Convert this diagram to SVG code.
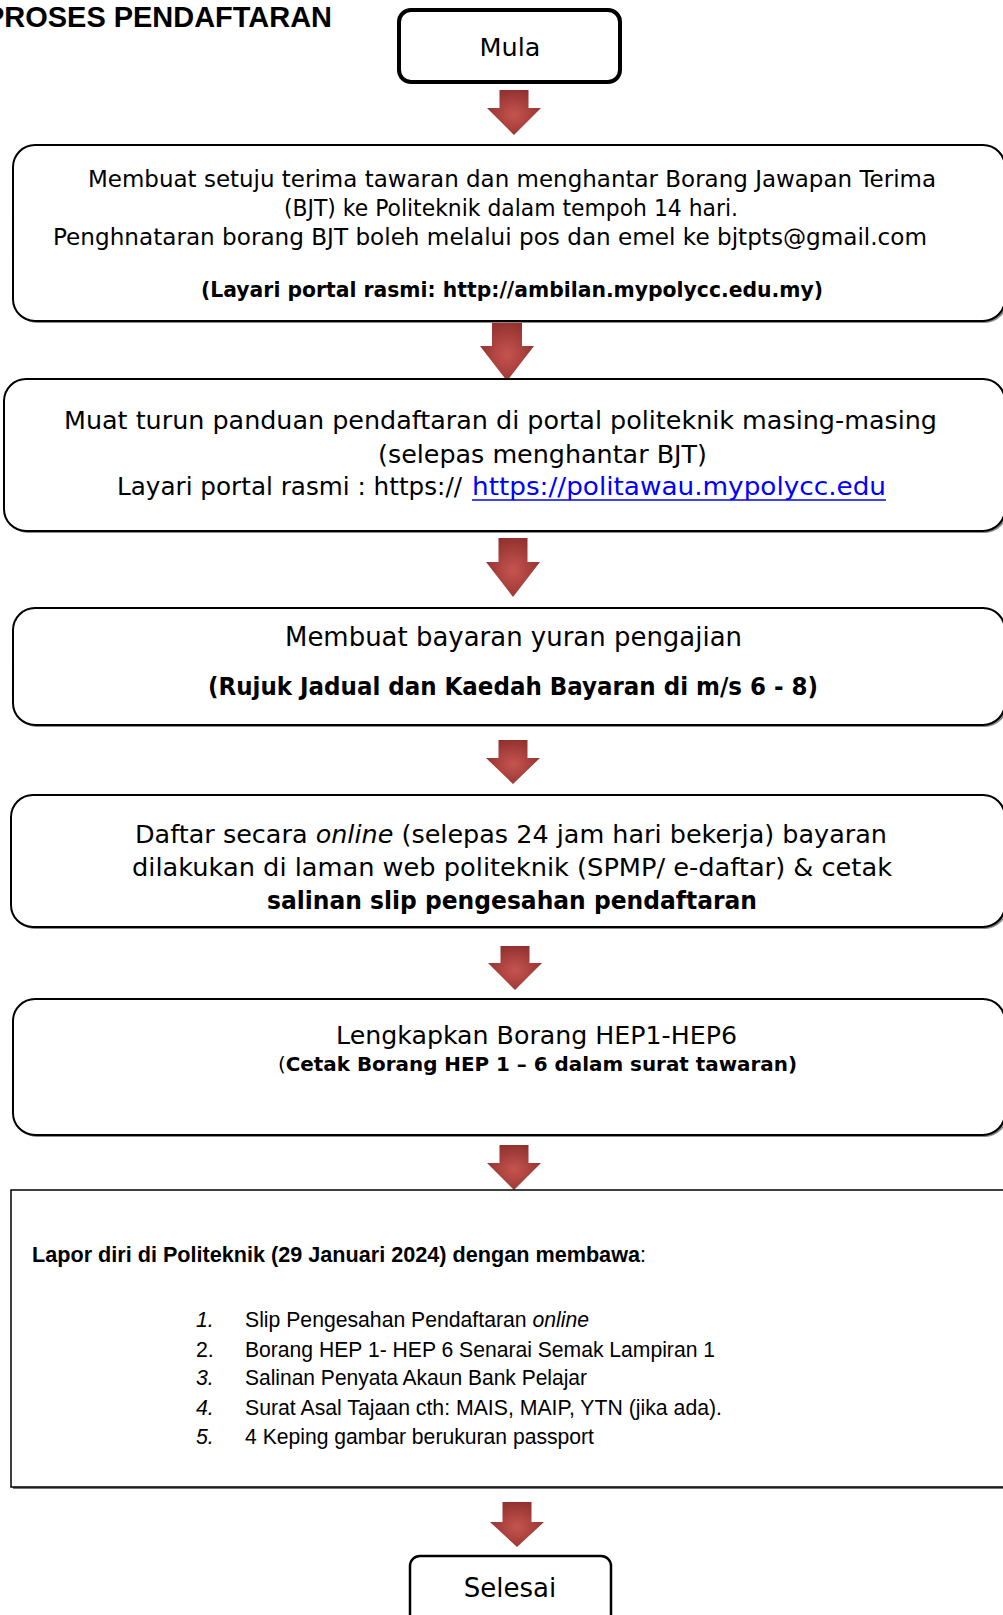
<svg xmlns="http://www.w3.org/2000/svg" width="1003" height="1615" viewBox="0 0 1003 1615">
<defs>
<radialGradient id="ag" cx="0.5" cy="0.55" r="0.6">
<stop offset="0" stop-color="#C6544F"/>
<stop offset="1" stop-color="#8E2F2D"/>
</radialGradient>
<style>
.box{fill:#fff;stroke:#000;stroke-width:2}
.sh{fill:#8a8a8a}
.t{font-family:"DejaVu Sans",Verdana,sans-serif;fill:#000}
.b{font-weight:bold}
.r{font-weight:normal}
.i{font-style:italic}
.a{font-family:"Liberation Sans",Arial,sans-serif;fill:#000}
.n{font-family:"Liberation Sans Narrow","Liberation Sans",Arial,sans-serif;fill:#000}
.arr{fill:url(#ag)}
</style>
</defs>
<rect width="1003" height="1615" fill="#fff"/>

<g id="title">
<text class="a b" x="-15" y="27" font-size="30" textLength="347" lengthAdjust="spacingAndGlyphs">PROSES PENDAFTARAN</text>
</g>

<g id="connectors">
<path class="arr" d="M499.5,90 H528.5 V108 H541 L514,135 L487,108 H499.5 Z"/>
<path class="arr" d="M492,322 H522 V346 H534 L507,381 L480,346 H492 Z"/>
<path class="arr" d="M498.5,538 H527.5 V562 H540 L513,597 L486,562 H498.5 Z"/>
<path class="arr" d="M498.5,740 H527.5 V758 H540 L513,784 L486,758 H498.5 Z"/>
<path class="arr" d="M500.5,946 H529.5 V963 H542 L515,990 L488,963 H500.5 Z"/>
<path class="arr" d="M499.5,1145 H528.5 V1163 H541 L514,1190 L487,1163 H499.5 Z"/>
<path class="arr" d="M502.5,1502 H531.5 V1522 H544 L517,1547 L490,1522 H502.5 Z"/>
</g>

<g id="mula">
<rect x="399" y="10" width="221" height="72" rx="12" fill="#fff" stroke="#000" stroke-width="4"/>
<text class="t" x="510" y="56" font-size="25.5" text-anchor="middle">Mula</text>
</g>

<g id="step1">
<rect class="sh" x="15" y="147" width="992" height="176" rx="22"/>
<rect class="box" x="13" y="145" width="992" height="176" rx="22"/>
<text class="t" x="88" y="187" font-size="23" textLength="848" lengthAdjust="spacingAndGlyphs">Membuat setuju terima tawaran dan menghantar Borang Jawapan Terima</text>
<text class="t" x="284" y="216" font-size="23" textLength="454" lengthAdjust="spacingAndGlyphs">(BJT) ke Politeknik dalam tempoh 14 hari.</text>
<text class="t" x="53" y="245" font-size="23" textLength="874" lengthAdjust="spacingAndGlyphs">Penghnataran borang BJT boleh melalui pos dan emel ke bjtpts@gmail.com</text>
<text class="t b" x="201" y="297" font-size="21" textLength="622" lengthAdjust="spacingAndGlyphs">(Layari portal rasmi: http://ambilan.mypolycc.edu.my)</text>
</g>

<g id="step2">
<rect class="sh" x="6" y="381" width="1001" height="152" rx="22"/>
<rect class="box" x="4" y="379" width="1001" height="152" rx="22"/>
<text class="t" x="64" y="429" font-size="25.4" textLength="873" lengthAdjust="spacingAndGlyphs">Muat turun panduan pendaftaran di portal politeknik masing-masing</text>
<text class="t" x="378" y="463" font-size="25.4" textLength="329" lengthAdjust="spacingAndGlyphs">(selepas menghantar BJT)</text>
<text class="t" x="117" y="495" font-size="25.4" textLength="345" lengthAdjust="spacingAndGlyphs">Layari portal rasmi : https://</text>
<text class="t" x="472" y="495" font-size="25.4" fill="#0000FF" style="fill:#0000FF" textLength="414" lengthAdjust="spacingAndGlyphs">https://politawau.mypolycc.edu</text>
<line x1="472" y1="500" x2="886" y2="500" stroke="#0000FF" stroke-width="1.6"/>
</g>

<g id="step3">
<rect class="sh" x="15" y="610" width="992" height="117" rx="22"/>
<rect class="box" x="13" y="608" width="992" height="117" rx="22"/>
<text class="t" x="285" y="646" font-size="26" textLength="457" lengthAdjust="spacingAndGlyphs">Membuat bayaran yuran pengajian</text>
<text class="t b" x="208" y="695" font-size="24" textLength="610" lengthAdjust="spacingAndGlyphs">(Rujuk Jadual dan Kaedah Bayaran di m/s 6 - 8)</text>
</g>

<g id="step4">
<rect class="sh" x="13" y="797" width="994" height="132" rx="22"/>
<rect class="box" x="11" y="795" width="994" height="132" rx="22"/>
<text class="t" x="135" y="843" font-size="25" textLength="752" lengthAdjust="spacingAndGlyphs">Daftar secara <tspan class="i">online</tspan> (selepas 24 jam hari bekerja) bayaran</text>
<text class="t" x="132" y="876" font-size="25" textLength="760" lengthAdjust="spacingAndGlyphs">dilakukan di laman web politeknik (SPMP/ e-daftar) &amp; cetak</text>
<text class="t b" x="267" y="909" font-size="25" textLength="490" lengthAdjust="spacingAndGlyphs">salinan slip pengesahan pendaftaran</text>
</g>

<g id="step5">
<rect class="sh" x="15" y="1001" width="992" height="136" rx="22"/>
<rect class="box" x="13" y="999" width="992" height="136" rx="22"/>
<text class="t" x="336" y="1044" font-size="25" textLength="401" lengthAdjust="spacingAndGlyphs">Lengkapkan Borang HEP1-HEP6</text>
<text class="t" x="278" y="1071" font-size="19.5" textLength="519" lengthAdjust="spacingAndGlyphs">(<tspan class="b">Cetak Borang HEP 1 – 6 dalam surat tawaran)</tspan></text>
</g>

<g id="step6">
<rect x="13" y="1192" width="1000" height="297" fill="#777"/>
<rect x="11" y="1190" width="1000" height="297" fill="#fff" stroke="#000" stroke-width="1.5"/>
<text class="n" x="32" y="1262" font-size="22.5" textLength="614" lengthAdjust="spacingAndGlyphs"><tspan class="b">Lapor diri di Politeknik (29 Januari 2024) dengan membawa</tspan><tspan class="r">:</tspan></text>
<text class="a i" x="196" y="1327" font-size="21.3">1.</text>
<text class="a" x="245" y="1327" font-size="21.3" textLength="344" lengthAdjust="spacingAndGlyphs">Slip Pengesahan Pendaftaran <tspan class="i">online</tspan></text>
<text class="a" x="196" y="1357" font-size="21.3">2.</text>
<text class="a" x="245" y="1357" font-size="21.3" textLength="470" lengthAdjust="spacingAndGlyphs">Borang HEP 1- HEP 6 Senarai Semak Lampiran 1</text>
<text class="a i" x="196" y="1385" font-size="21.3">3.</text>
<text class="a" x="245" y="1385" font-size="21.3" textLength="342" lengthAdjust="spacingAndGlyphs">Salinan Penyata Akaun Bank Pelajar</text>
<text class="a i" x="196" y="1415" font-size="21.3">4.</text>
<text class="a" x="245" y="1415" font-size="21.3" textLength="477" lengthAdjust="spacingAndGlyphs">Surat Asal Tajaan cth: MAIS, MAIP, YTN (jika ada).</text>
<text class="a i" x="196" y="1444" font-size="21.3">5.</text>
<text class="a" x="245" y="1444" font-size="21.3" textLength="349" lengthAdjust="spacingAndGlyphs">4 Keping gambar berukuran passport</text>
</g>

<g id="selesai">
<rect x="410" y="1556" width="201" height="80" rx="10" fill="#fff" stroke="#000" stroke-width="2.5"/>
<text class="t" x="510" y="1597" font-size="26" text-anchor="middle">Selesai</text>
</g>
</svg>
